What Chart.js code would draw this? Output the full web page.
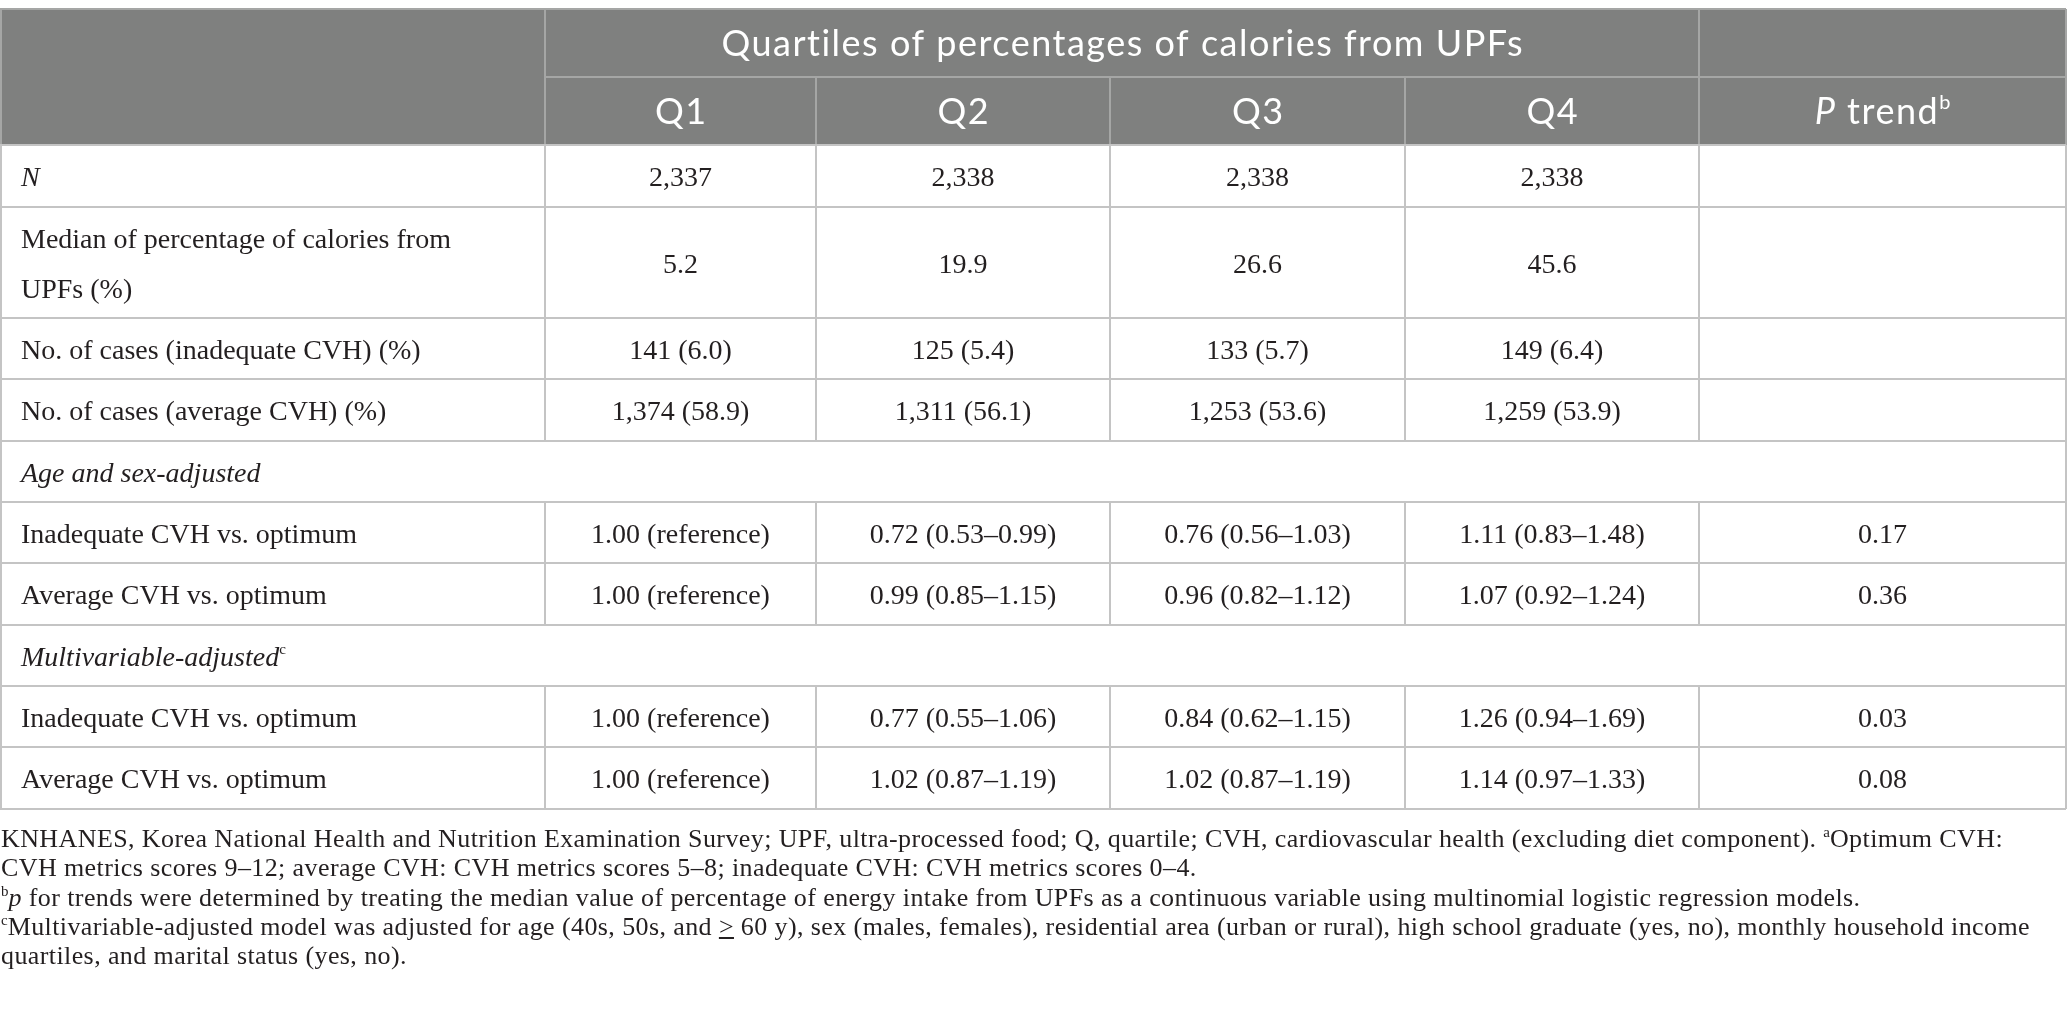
<!DOCTYPE html>
<html>
<head>
<meta charset="utf-8">
<script src="https://cdn.jsdelivr.net/npm/chart.js@4.4.1/dist/chart.umd.min.js"></script>
<style>
html,body{margin:0;padding:0;background:#ffffff;}
#wrap{position:relative;width:2067px;height:1015px;overflow:hidden;}
#chartBox{position:absolute;left:0;top:0;width:2067px;height:1015px;}
.fn{position:absolute;left:1px;font-family:"Liberation Serif","Times New Roman",serif;font-size:26px;line-height:26px;letter-spacing:0.4px;color:#231f20;white-space:nowrap;}
.fn sup{font-size:15px;line-height:0;vertical-align:10px;letter-spacing:0;}
</style>
</head>
<body>
<div id="wrap">
  <div id="chartBox"><canvas id="c"></canvas></div>
  <div id="notes"></div>
</div>
<script>
// ---------------- data ----------------
const groupHeader = 'Quartiles of percentages of calories from UPFs';
const columnHeaders = ['Q1', 'Q2', 'Q3', 'Q4', '*P* trend^b'];
const rowLabels = [
  '*N*',
  'Median of percentage of calories from|UPFs (%)',
  'No. of cases (inadequate CVH) (%)',
  'No. of cases (average CVH) (%)',
  '*Age and sex-adjusted*',
  'Inadequate CVH vs. optimum',
  'Average CVH vs. optimum',
  '*Multivariable-adjusted*^c',
  'Inadequate CVH vs. optimum',
  'Average CVH vs. optimum'
];
const q1Values = ['2,337', '5.2', '141 (6.0)', '1,374 (58.9)', null, '1.00 (reference)', '1.00 (reference)', null, '1.00 (reference)', '1.00 (reference)'];
const q2Values = ['2,338', '19.9', '125 (5.4)', '1,311 (56.1)', null, '0.72 (0.53–0.99)', '0.99 (0.85–1.15)', null, '0.77 (0.55–1.06)', '1.02 (0.87–1.19)'];
const q3Values = ['2,338', '26.6', '133 (5.7)', '1,253 (53.6)', null, '0.76 (0.56–1.03)', '0.96 (0.82–1.12)', null, '0.84 (0.62–1.15)', '1.02 (0.87–1.19)'];
const q4Values = ['2,338', '45.6', '149 (6.4)', '1,259 (53.9)', null, '1.11 (0.83–1.48)', '1.07 (0.92–1.24)', null, '1.26 (0.94–1.69)', '1.14 (0.97–1.33)'];
const pTrendValues = ['', '', '', '', null, '0.17', '0.36', null, '0.03', '0.08'];
const footnotes = [
  'KNHANES, Korea National Health and Nutrition Examination Survey; UPF, ultra-processed food; Q, quartile; CVH, cardiovascular health (excluding diet component). ^aOptimum CVH:',
  'CVH metrics scores 9–12; average CVH: CVH metrics scores 5–8; inadequate CVH: CVH metrics scores 0–4.',
  '^b*p* for trends were determined by treating the median value of percentage of energy intake from UPFs as a continuous variable using multinomial logistic regression models.',
  '^cMultivariable-adjusted model was adjusted for age (40s, 50s, and <u>&gt;</u> 60 y), sex (males, females), residential area (urban or rural), high school graduate (yes, no), monthly household income',
  'quartiles, and marital status (yes, no).'
];

// ---------------- layout (sizes / styles) ----------------
const layout = {
  width: 2067, height: 1015,
  colEdges: [0, 545, 816, 1110, 1405, 1699, 2066],
  headerEdges: [9, 77, 145],
  rowEdges: [145, 207, 318, 379, 441, 502, 563, 625, 686, 747, 809],
  cellPadX: 21,
  lineSpacing: 50,
  footTop: 848, footStep: 29.3
};
const style = {
  headerFill: '#7f807f',
  headerLine: '#a5a6a5',
  bodyLine: '#c4c4c4',
  lineWidth: 2,
  headerFont: 'Lato', headerSize: 36, headerSpacing: 1.5, headerColor: '#ffffff',
  bodyFont: '"Liberation Serif"', bodySize: 28, bodyColor: '#231f20'
};

const valueColumns = [q1Values, q2Values, q3Values, q4Values, pTrendValues];
const isSection = rowLabels.map((_, i) => q1Values[i] === null);

function mid(a, b) { return (a + b) / 2; }

function buildDatasets() {
  const ce = layout.colEdges, he = layout.headerEdges, re = layout.rowEdges;
  const ds = [];
  const base = { pointRadius: 0, pointHoverRadius: 0, showLine: false };
  ds.push(Object.assign({}, base, {
    label: 'group', role: 'header', align: 'center', texts: [groupHeader],
    data: [{ x: mid(ce[1], ce[5]), y: mid(he[0], he[1]) }]
  }));
  ds.push(Object.assign({}, base, {
    label: 'columns', role: 'header', align: 'center', texts: columnHeaders.slice(),
    data: columnHeaders.map((_, c) => ({ x: mid(ce[c + 1], ce[c + 2]), y: mid(he[1], he[2]) }))
  }));
  ds.push(Object.assign({}, base, {
    label: 'rows', role: 'body', align: 'left', texts: rowLabels.slice(),
    data: rowLabels.map((_, i) => ({ x: ce[0] + layout.cellPadX, y: mid(re[i], re[i + 1]) }))
  }));
  valueColumns.forEach((vals, c) => {
    const texts = [], data = [];
    vals.forEach((v, i) => {
      if (v) { texts.push(v); data.push({ x: mid(ce[c + 1], ce[c + 2]), y: mid(re[i], re[i + 1]) }); }
    });
    ds.push(Object.assign({}, base, { label: 'col' + c, role: 'body', align: 'center', texts, data }));
  });
  return ds;
}

function parseRich(s) {
  const segs = []; let buf = ''; let it = false;
  for (let i = 0; i < s.length; i++) {
    const ch = s[i];
    if (ch === '*') { if (buf) segs.push({ t: buf, it }); buf = ''; it = !it; continue; }
    if (ch === '^') { if (buf) segs.push({ t: buf, it }); buf = ''; segs.push({ t: s[i + 1], it: false, sup: true }); i++; continue; }
    buf += ch;
  }
  if (buf) segs.push({ t: buf, it });
  return segs;
}

function drawRich(ctx, s, x, baseline, align, family, size, color, spacing) {
  const segs = parseRich(s);
  const fontFor = sg => (sg.it ? 'italic ' : '') + (sg.sup ? Math.round(size * 0.55) : size) + 'px ' + family;
  ctx.letterSpacing = (spacing || 0) + 'px';
  let w = 0;
  segs.forEach(sg => { ctx.font = fontFor(sg); sg.w = ctx.measureText(sg.t).width; w += sg.w; });
  if (spacing) w -= spacing;
  let cx = align === 'center' ? x - w / 2 : x;
  ctx.textAlign = 'left'; ctx.textBaseline = 'alphabetic'; ctx.fillStyle = color;
  segs.forEach(sg => {
    ctx.font = fontFor(sg);
    ctx.fillText(sg.t, cx, sg.sup ? baseline - size * 0.42 : baseline);
    cx += sg.w;
  });
  ctx.letterSpacing = '0px';
}

const tablePlugin = {
  id: 'tableGrid',
  beforeDatasetsDraw(chart) {
    const ctx = chart.ctx, sx = chart.scales.x, sy = chart.scales.y;
    const X = v => sx.getPixelForValue(v), Y = v => sy.getPixelForValue(v);
    const ce = layout.colEdges, he = layout.headerEdges, re = layout.rowEdges;
    ctx.save();
    ctx.fillStyle = style.headerFill;
    ctx.fillRect(X(ce[0]), Y(he[0]), X(ce[ce.length - 1]) - X(ce[0]), Y(he[2]) - Y(he[0]));
    ctx.lineWidth = style.lineWidth;
    const line = (x0, y0, x1, y1, col) => { ctx.strokeStyle = col; ctx.beginPath(); ctx.moveTo(x0, y0); ctx.lineTo(x1, y1); ctx.stroke(); };
    line(X(ce[1]), Y(he[1]), X(ce[6]), Y(he[1]), style.headerLine);
    line(X(ce[1]), Y(he[0]), X(ce[1]), Y(he[2]), style.headerLine);
    line(X(ce[5]), Y(he[0]), X(ce[5]), Y(he[2]), style.headerLine);
    for (let c = 2; c <= 4; c++) line(X(ce[c]), Y(he[1]), X(ce[c]), Y(he[2]), style.headerLine);
    line(X(ce[0]), Y(he[0]), X(ce[6]), Y(he[0]), style.headerLine);
    line(X(ce[0]) + 1, Y(he[0]), X(ce[0]) + 1, Y(he[2]), style.headerLine);
    line(X(ce[6]), Y(he[0]), X(ce[6]), Y(he[2]), style.headerLine);
    re.forEach(v => line(X(ce[0]), Y(v), X(ce[6]), Y(v), style.bodyLine));
    for (let i = 0; i < re.length - 1; i++) {
      line(X(ce[0]) + 1, Y(re[i]), X(ce[0]) + 1, Y(re[i + 1]), style.bodyLine);
      line(X(ce[6]), Y(re[i]), X(ce[6]), Y(re[i + 1]), style.bodyLine);
      if (!isSection[i]) for (let c = 1; c <= 5; c++) line(X(ce[c]), Y(re[i]), X(ce[c]), Y(re[i + 1]), style.bodyLine);
    }
    ctx.restore();
  },
  afterDatasetsDraw(chart) {
    const ctx = chart.ctx;
    ctx.save();
    chart.data.datasets.forEach((ds, di) => {
      const meta = chart.getDatasetMeta(di);
      meta.data.forEach((el, j) => {
        const txt = ds.texts[j];
        if (!txt) return;
        if (ds.role === 'header') {
          drawRich(ctx, txt, el.x, el.y + style.headerSize * 0.37, ds.align, style.headerFont, style.headerSize, style.headerColor, style.headerSpacing);
        } else {
          const lines = txt.split('|');
          const n = lines.length;
          lines.forEach((ln, k) => {
            const off = (k - (n - 1) / 2) * layout.lineSpacing;
            drawRich(ctx, ln, el.x, el.y + off + style.bodySize * 0.36, ds.align, style.bodyFont, style.bodySize, style.bodyColor, 0);
          });
        }
      });
    });
    ctx.restore();
  }
};

new Chart(document.getElementById('c'), {
  type: 'scatter',
  data: { datasets: buildDatasets() },
  options: {
    responsive: true, maintainAspectRatio: false, animation: false, events: [],
    layout: { padding: 0 },
    plugins: { legend: { display: false }, tooltip: { enabled: false }, title: { display: false } },
    scales: {
      x: { type: 'linear', min: 0, max: layout.width, display: false },
      y: { type: 'linear', min: 0, max: layout.height, reverse: true, display: false }
    }
  },
  plugins: [tablePlugin]
});

// footnotes as real text
const notes = document.getElementById('notes');
footnotes.forEach((f, i) => {
  const d = document.createElement('div');
  d.className = 'fn';
  d.style.top = (layout.footTop + i * layout.footStep - 22) + 'px';
  d.innerHTML = f.replace(/\^([a-z])/g, '<sup>$1</sup>').replace(/\*([^*]+)\*/g, '<i>$1</i>');
  notes.appendChild(d);
});
</script>
</body>
</html>
